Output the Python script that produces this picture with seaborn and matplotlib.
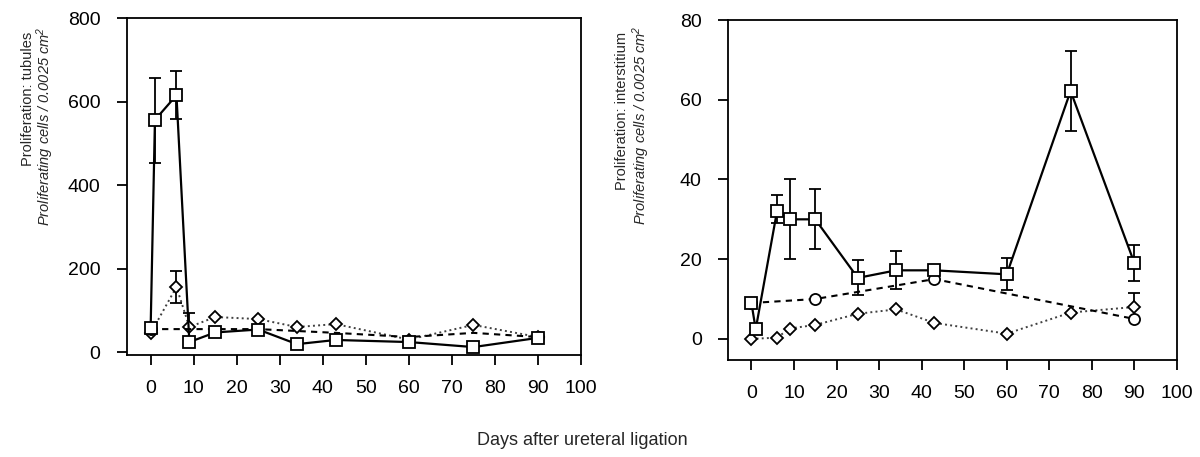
import matplotlib
matplotlib.use("Agg")
import matplotlib.pyplot as plt
import seaborn as sns

# ---------------- data ----------------
# Left panel: tubules
tub_sq_days = [0, 1, 6, 9, 15, 25, 34, 43, 60, 75, 90]
tub_sq_vals = [57, 556, 615, 24, 47, 54, 19, 29, 24, 12, 34]
tub_sq_err_days = [1, 6]
tub_sq_err_vals = [556, 615]
tub_sq_err_lo = [103, 57]
tub_sq_err_hi = [100, 58]

tub_ci_days = [0, 25, 43, 60, 75, 90]
tub_ci_vals = [55, 55, 46, 36, 46, 36]

tub_di_days = [0, 6, 9, 15, 25, 34, 43, 60, 75, 90]
tub_di_vals = [45, 156, 60, 84, 79, 60, 67, 30, 65, 36]
tub_di_err_days = [6, 9]
tub_di_err_vals = [156, 60]
tub_di_err_lo = [38, 0]
tub_di_err_hi = [38, 33]

# Right panel: interstitium
int_sq_days = [0, 1, 6, 9, 15, 25, 34, 43, 60, 75, 90]
int_sq_vals = [9, 2.4, 32, 30, 30, 15.3, 17.2, 17.2, 16.2, 62.2, 19]
int_sq_err_days = [6, 9, 15, 25, 34, 60, 75, 90]
int_sq_err_vals = [32, 30, 30, 15.3, 17.2, 16.2, 62.2, 19]
int_sq_err_lo = [3, 10, 7.5, 4.4, 4.8, 4, 10, 4.5]
int_sq_err_hi = [4, 10, 7.5, 4.4, 4.8, 4, 10, 4.5]

int_ci_days = [0, 15, 43, 90]
int_ci_vals = [9, 10, 15, 5]

int_di_days = [0, 6, 9, 15, 25, 34, 43, 60, 75, 90]
int_di_vals = [0, 0.3, 2.6, 3.5, 6.3, 7.4, 4, 1.3, 6.6, 8]
int_di_err_days = [90]
int_di_err_vals = [8]
int_di_err_lo = [0]
int_di_err_hi = [3.5]

x_ticks = [0, 10, 20, 30, 40, 50, 60, 70, 80, 90, 100]
tub_yticks = [0, 200, 400, 600, 800]
int_yticks = [0, 20, 40, 60, 80]

xlabel = "Days after ureteral ligation"
tub_label1 = "Proliferation: tubules"
int_label1 = "Proliferation: interstitium"
label2 = "Proliferating cells / 0.0025 cm$^2$"

# ---------------- style ----------------
sns.set_theme(style="white")
plt.rcParams["font.family"] = ["Liberation Sans", "DejaVu Sans"]
plt.rcParams["mathtext.fontset"] = "custom"
plt.rcParams["mathtext.rm"] = "Liberation Sans:italic"
plt.rcParams["mathtext.it"] = "Liberation Sans:italic"

fig = plt.figure(figsize=(12, 4.57), dpi=100)
axL = fig.add_axes([0.1058, 0.2232, 0.3784, 0.7374])
axR = fig.add_axes([0.6067, 0.2123, 0.3741, 0.7437])

mk = dict(markerfacecolor="white", markeredgecolor="black", markeredgewidth=1.3)


def draw(ax, sq_d, sq_v, ci_d, ci_v, ci_every, di_d, di_v,
         sq_e, di_e, ylim, yticks):
    sns.lineplot(x=di_d, y=di_v, ax=ax, color="0.25", linestyle=":", lw=1.4,
                 marker="D", markersize=6.5, zorder=3, errorbar=None, **mk)
    sns.lineplot(x=ci_d, y=ci_v, ax=ax, color="black", linestyle=(0, (3, 2.5)),
                 lw=1.5, marker="o", markersize=8, markevery=ci_every,
                 zorder=3.5, errorbar=None, **mk)
    sns.lineplot(x=sq_d, y=sq_v, ax=ax, color="black", linestyle="-", lw=1.6,
                 marker="s", markersize=8, zorder=4, errorbar=None, **mk)
    for (ed, ev, lo, hi), z in ((di_e, 2.5), (sq_e, 3.8)):
        ax.errorbar(ed, ev, yerr=[lo, hi], fmt="none", ecolor="black",
                    elinewidth=1.3, capsize=4.5, capthick=1.3, zorder=z)
    ax.set_xlim(-5.5, 100)
    ax.set_ylim(*ylim)
    ax.set_xticks(x_ticks)
    ax.set_yticks(yticks)
    ax.set_xlabel("")
    ax.set_ylabel("")
    for s in ax.spines.values():
        s.set_visible(True)
        s.set_color("black")
        s.set_linewidth(1.3)
    ax.tick_params(axis="both", which="major", direction="out", length=7,
                   width=1.3, color="black", labelsize=14, labelcolor="black",
                   bottom=True, left=True, top=False, right=False)
    ax.tick_params(axis="y", pad=12)
    ax.tick_params(axis="x", pad=11)
    ax.grid(False)


draw(axL, tub_sq_days, tub_sq_vals, tub_ci_days, tub_ci_vals,
     [0, len(tub_ci_days) - 1], tub_di_days, tub_di_vals,
     (tub_sq_err_days, tub_sq_err_vals, tub_sq_err_lo, tub_sq_err_hi),
     (tub_di_err_days, tub_di_err_vals, tub_di_err_lo, tub_di_err_hi),
     (-7, 800), tub_yticks)
draw(axR, int_sq_days, int_sq_vals, int_ci_days, int_ci_vals,
     None, int_di_days, int_di_vals,
     (int_sq_err_days, int_sq_err_vals, int_sq_err_lo, int_sq_err_hi),
     (int_di_err_days, int_di_err_vals, int_di_err_lo, int_di_err_hi),
     (-5.3, 80), int_yticks)

# y labels (two lines: regular + italic)
fig.text(0.0235, 0.930, tub_label1, rotation=90, ha="center", va="top", fontsize=10.5)
fig.text(0.0380, 0.941, label2, rotation=90, ha="center", va="top",
         fontsize=10.5, style="italic")
fig.text(0.5185, 0.930, int_label1, rotation=90, ha="center", va="top", fontsize=10.5)
fig.text(0.5345, 0.945, label2, rotation=90, ha="center", va="top",
         fontsize=10.5, style="italic")

fig.text(0.485, 0.037, xlabel, ha="center", va="center", fontsize=13)

fig.savefig("out.png", dpi=100, facecolor="white")
